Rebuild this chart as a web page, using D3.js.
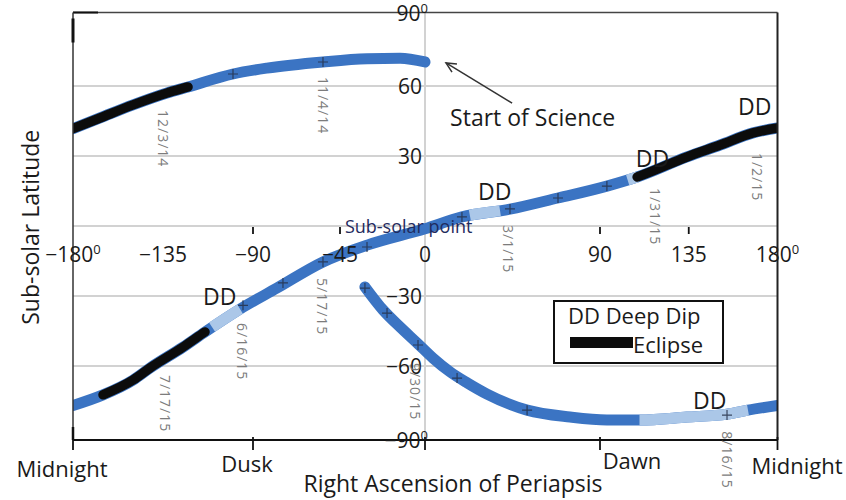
<!DOCTYPE html>
<html><head><meta charset="utf-8">
<script src="https://cdn.jsdelivr.net/npm/d3@7"></script>
<style>
body{margin:0;background:#fff}
svg{display:block}
text{font-family:"Open Sans",sans-serif;fill:#1a1a1a}
</style>
</head><body>
<svg id="chart" width="846" height="500"></svg>
<script>
// ---------- DATA ----------
// [right ascension of periapsis (deg), sub-solar latitude (deg)]
const upperTrack = [[-180,41.7],[-166.5,46.3],[-150,51.9],[-133,57],[-122.5,59.6],[-100,64.9],[-82.8,67.3],[-53.8,69.8],[-30.7,71.1],[-13.2,71.3],[0,69.8]];
const middleTrack = [[-180,-76],[-165,-71.7],[-150,-65.7],[-141.5,-60.8],[-125,-51.9],[-114,-45.4],[-96.5,-35.6],[-77.6,-26.6],[-53.8,-15.4],[-30.2,-8.1],[0,-1.2],[19,3.9],[43.7,7.2],[68.4,12],[93.5,17.1],[108.8,21],[134.1,29.6],[150.9,34.7],[167.6,39.9],[180,42]];
const lowerTrack = [[-31.8,-26.1],[-22.2,-36],[-13.2,-43.3],[-4.2,-50.1],[4.1,-56.6],[12.9,-62.4],[21.6,-66.8],[31.9,-71.4],[52.5,-77.9],[74.6,-80.7],[93.5,-81.9],[110.3,-81.9],[134.1,-80.7],[154.4,-79.5],[165,-77.9],[180,-76]];

// highlighted stretches [from RA, to RA, kind]
const upperSegments = [[-180,-122.5,"eclipse"]];
const middleSegments = [[-165,-114,"eclipse"],[-110.5,-96.5,"dip"],[23,38.6,"dip"],[104,109,"dip"],[108.8,180,"eclipse"]];
const lowerSegments = [[110,165,"dip"]];

// monthly "+" markers
const crossPoints = [[-100,64.9],[-53.8,69.8],
  [-95,-34],[-74.5,-24.4],[-53.8,-15.4],[-30.7,-9],[19,3.9],[43.7,7.3],[68.4,12],[93.5,17.1],
  [-31.8,-26.6],[-20.1,-37.3],[-3.7,-51],[16.5,-64.9],[52.5,-77.9],[154.4,-79.9]];

// date labels: text, RA of column, latitude of top
const dateLabels = ["12/3/14","11/4/14","1/31/15","1/2/15","3/1/15","5/17/15","6/16/15","7/17/15","9/30/15","8/16/15"];
const dateRA = [-135,-53.8,117.9,169.6,42.7,-54.3,-95.5,-134,-5.3,154.4];
const dateLat = [49.7,63.7,16.3,31.3,0.4,-22.3,-41.6,-63.6,-58.7,-86.5];

// Deep-dip labels
const ddRA = [160,108.1,27.3,-115,137.2];
const ddLat = [47.6,25.3,11.1,-33.9,-77.3];

// tick values / labels
const xTickValues = [-180,-135,-90,-45,0,90,135,180];
const xTickLabels = ["\u2212180","\u2212135","\u221290","\u221245","0","90","135","180"];
const xTickDegree = [true,false,false,false,false,false,false,true];
const xMinorTicks = [-90,-45,90,135];
const yTickValues = [90,60,30,-30,-60,-90];
const yTickLabels = ["90","60","30","\u221230","\u221260","\u221290"];
const yTickDegree = [true,false,false,false,false,true];
const yGridValues = [60,30,0,-30,-60];
const timeTicks = [-180,-90,0,90,180];
const timeLabels = ["Midnight","Dusk","","Dawn","Midnight"];

// ---------- SCALES ----------
const svg = d3.select("#chart");
const x = d3.scaleLinear().domain([-180,-90,-45,0,90,180]).range([73,253,340,425,600,777.5]);
const y = d3.scaleLinear().domain([-90,-60,60,90]).range([440,366,86,12.5]);
const X0 = x(-180), X1 = x(180), Y0 = y(90), Y1 = y(-90);

const BLUE = "#3b74c3", LIGHT = "#abc7e8", BLACK = "#0c0c0c";

// ---------- GRID ----------
svg.append("g").selectAll("line").data(yGridValues).join("line")
  .attr("x1", X0).attr("x2", X1).attr("y1", d=>y(d)).attr("y2", d=>y(d))
  .attr("stroke", "#d2d2d2").attr("stroke-width", 2);
svg.append("line").attr("x1", x(0)).attr("x2", x(0)).attr("y1", Y0).attr("y2", Y1)
  .attr("stroke", "#d2d2d2").attr("stroke-width", 2);

// ---------- TRACKS ----------
svg.append("defs").append("clipPath").attr("id","plotclip")
  .append("rect").attr("x", X0).attr("y", Y0).attr("width", X1-X0).attr("height", Y1-Y0);
const tracks = svg.append("g").attr("clip-path","url(#plotclip)");
const line = d3.line().x(d=>x(d[0])).y(d=>y(d[1])).curve(d3.curveMonotoneX);

function lengthAtX(node, px){
  let lo = 0, hi = node.getTotalLength();
  for(let i=0;i<40;i++){
    const mid = (lo+hi)/2;
    if(node.getPointAtLength(mid).x < px) lo = mid; else hi = mid;
  }
  return (lo+hi)/2;
}

function drawTrack(data, segments){
  const base = tracks.append("path").attr("d", line(data)).attr("fill","none")
    .attr("stroke", BLUE).attr("stroke-width", 11).attr("stroke-linecap","round");
  const node = base.node();
  const total = node.getTotalLength();
  segments.forEach(([a,b,kind])=>{
    const l0 = lengthAtX(node, x(a)), l1 = lengthAtX(node, x(b));
    tracks.append("path").attr("d", line(data)).attr("fill","none")
      .attr("stroke", kind==="eclipse" ? BLACK : LIGHT)
      .attr("stroke-width", kind==="eclipse" ? 9.5 : 11)
      .attr("stroke-linecap", kind==="eclipse" ? "round" : "butt")
      .attr("stroke-dasharray", `${l1-l0} ${total*3}`)
      .attr("stroke-dashoffset", -l0);
  });
}
drawTrack(upperTrack, upperSegments);
drawTrack(middleTrack, middleSegments);
drawTrack(lowerTrack, lowerSegments);

// crosses
svg.append("g").selectAll("path").data(crossPoints).join("path")
  .attr("transform", d=>`translate(${x(d[0])},${y(d[1])})`)
  .attr("d","M-5,0H5M0,-5V5").attr("stroke","#27324a").attr("stroke-width",1.2).attr("opacity",0.85);

// ---------- FRAME / AXES ----------
svg.append("line").attr("x1",X0).attr("x2",X1).attr("y1",Y0).attr("y2",Y0).attr("stroke","#444").attr("stroke-width",1.5);
svg.append("line").attr("x1",X0).attr("x2",X0+25).attr("y1",Y0).attr("y2",Y0).attr("stroke","#111").attr("stroke-width",2);
svg.append("line").attr("x1",X1).attr("x2",X1).attr("y1",Y0).attr("y2",Y1).attr("stroke","#222").attr("stroke-width",2);
svg.append("line").attr("x1",X0).attr("x2",X0).attr("y1",Y0).attr("y2",Y1).attr("stroke","#333").attr("stroke-width",1.5);
svg.append("line").attr("x1",X0).attr("x2",X1).attr("y1",Y1).attr("y2",Y1).attr("stroke","#111").attr("stroke-width",2);
svg.append("line").attr("x1",X0).attr("x2",X0).attr("y1",Y0+6).attr("y2",Y0+30).attr("stroke","#111").attr("stroke-width",3);
svg.append("line").attr("x1",X0).attr("x2",X0).attr("y1",Y1-13).attr("y2",Y1).attr("stroke","#111").attr("stroke-width",2.5);

// bottom time ticks
svg.append("g").selectAll("line").data(timeTicks).join("line")
  .attr("x1", d=>x(d)).attr("x2", d=>x(d)).attr("y1", Y1-3).attr("y2", Y1+10)
  .attr("stroke","#111").attr("stroke-width",1.8);
const timeDx = [-11,-6,0,32,19.5];
const timeDy = [37,32,0,29,34];
svg.append("g").selectAll("text").data(timeTicks).join("text")
  .attr("x",(d,i)=>x(d)+timeDx[i]).attr("y",(d,i)=>Y1+timeDy[i])
  .attr("text-anchor","middle").attr("font-size",22).text((d,i)=>timeLabels[i]);

// minor ticks on the zero-latitude line
svg.append("g").selectAll("line").data(xMinorTicks).join("line")
  .attr("x1", d=>x(d)).attr("x2", d=>x(d)).attr("y1", y(0)+1).attr("y2", y(0)+8)
  .attr("stroke","#111").attr("stroke-width",1.8);

// x tick labels
const xt = svg.append("g").selectAll("text").data(xTickValues).join("text")
  .attr("x", d=>x(d)).attr("y", y(0)+36).attr("text-anchor","middle").attr("font-size",21);
xt.append("tspan").text((d,i)=>xTickLabels[i]);
xt.filter((d,i)=>xTickDegree[i]).append("tspan").attr("dy",-8).attr("font-size",13).text("0");

// y tick labels
const yt = svg.append("g").selectAll("text").data(yTickValues).join("text")
  .attr("x", (d,i)=>x(0) + (yTickDegree[i] ? 3 : -3)).attr("y", d=>y(d)+8)
  .attr("text-anchor","end").attr("font-size",21);
yt.append("tspan").text((d,i)=>yTickLabels[i]);
yt.filter((d,i)=>yTickDegree[i]).append("tspan").attr("dy",-8).attr("font-size",13).text("0");

// axis titles
svg.append("text").attr("x",453).attr("y",492).attr("text-anchor","middle").attr("font-size",23)
  .text("Right Ascension of Periapsis");
svg.append("text").attr("transform",`translate(39,${(Y0+Y1)/2+1}) rotate(-90)`)
  .attr("text-anchor","middle").attr("font-size",23).text("Sub-solar Latitude");

// ---------- ANNOTATIONS ----------
svg.append("g").selectAll("text").data(dateLabels).join("text")
  .attr("transform",(d,i)=>`translate(${x(dateRA[i])-5},${y(dateLat[i])}) rotate(90)`)
  .attr("font-size",14).attr("letter-spacing",1).style("fill","#7c7c7c").text(d=>d);

svg.append("g").selectAll("text").data(ddRA).join("text")
  .attr("x",(d,i)=>x(d)).attr("y",(d,i)=>y(ddLat[i])).attr("font-size",23).text("DD");

svg.append("text").attr("x",x(-42.4)).attr("y",y(-3)).attr("font-family","Liberation Sans, Arial, sans-serif")
  .attr("font-size",18).style("fill","#1f2b5e").text("Sub-solar point");

svg.append("text").attr("x",x(12.9)).attr("y",y(42.9)).attr("font-size",23).text("Start of Science");

// arrow
const arrowTail = [44.8,52.7], arrowHead = [10.8,69.4];
const hx = x(arrowHead[0]), hy = y(arrowHead[1]), tx = x(arrowTail[0]), ty = y(arrowTail[1]);
const ang = Math.atan2(ty-hy, tx-hx);
svg.append("line").attr("x1",tx).attr("y1",ty).attr("x2",hx).attr("y2",hy).attr("stroke","#333").attr("stroke-width",1.5);
const al = 11, aw = 0.45;
svg.append("path").attr("d",`M${hx+al*Math.cos(ang-aw)},${hy+al*Math.sin(ang-aw)}L${hx},${hy}L${hx+al*Math.cos(ang+aw)},${hy+al*Math.sin(ang+aw)}`)
  .attr("fill","none").attr("stroke","#333").attr("stroke-width",1.5);

// legend
const lg = svg.append("g").attr("transform","translate(554,301)");
lg.append("rect").attr("width",169).attr("height",62).attr("fill","#fff").attr("stroke","#111").attr("stroke-width",2);
lg.append("text").attr("x",14).attr("y",23).attr("font-size",22).text("DD Deep Dip");
lg.append("rect").attr("x",16).attr("y",36).attr("width",63).attr("height",11).attr("fill",BLACK);
lg.append("text").attr("x",79).attr("y",52).attr("font-size",22).text("Eclipse");
</script>
</body></html>
